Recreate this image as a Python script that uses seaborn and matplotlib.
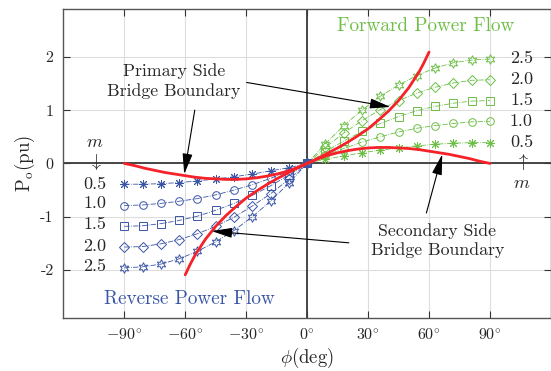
import matplotlib
matplotlib.use("Agg")
import matplotlib.pyplot as plt
import seaborn as sns
import pandas as pd

# ---------------- data ----------------
phi_fwd = [0, 9, 18, 27, 36, 45, 54, 63, 72, 81, 90]
phi_rev = [-90, -81, -72, -63, -54, -45, -36, -27, -18, -9, 0]
m_labels = ["0.5", "1.0", "1.5", "2.0", "2.5"]

P_fwd_05 = [0, 0.08, 0.14, 0.20, 0.25, 0.29, 0.33, 0.36, 0.38, 0.39, 0.39]
P_fwd_10 = [0, 0.15, 0.28, 0.40, 0.50, 0.59, 0.66, 0.71, 0.75, 0.78, 0.79]
P_fwd_15 = [0, 0.22, 0.42, 0.60, 0.75, 0.88, 0.99, 1.07, 1.13, 1.17, 1.18]
P_fwd_20 = [0, 0.30, 0.57, 0.80, 1.01, 1.18, 1.32, 1.43, 1.51, 1.56, 1.57]
P_fwd_25 = [0, 0.37, 0.71, 1.00, 1.26, 1.47, 1.65, 1.79, 1.89, 1.94, 1.96]

P_rev_05 = [-0.39, -0.39, -0.38, -0.36, -0.33, -0.29, -0.25, -0.20, -0.14, -0.08, 0]
P_rev_10 = [-0.79, -0.78, -0.75, -0.71, -0.66, -0.59, -0.50, -0.40, -0.28, -0.15, 0]
P_rev_15 = [-1.18, -1.17, -1.13, -1.07, -0.99, -0.88, -0.75, -0.60, -0.42, -0.22, 0]
P_rev_20 = [-1.57, -1.56, -1.51, -1.43, -1.32, -1.18, -1.01, -0.80, -0.57, -0.30, 0]
P_rev_25 = [-1.96, -1.94, -1.89, -1.79, -1.65, -1.47, -1.26, -1.00, -0.71, -0.37, 0]

# boundaries
phi_sec = [0, 5, 10, 15, 20, 25, 30, 35, 40, 45, 50, 55, 60, 65, 70, 75, 80, 85, 90]
P_sec = [0, 0.08, 0.15, 0.20, 0.24, 0.27, 0.29, 0.30, 0.30, 0.29, 0.28, 0.26,
         0.23, 0.20, 0.17, 0.13, 0.09, 0.04, 0]
phi_pri = [-90, -85, -80, -75, -70, -65, -60, -55, -50, -45, -40, -35, -30,
           -25, -20, -15, -10, -5, 0]
P_pri = [0, -0.04, -0.09, -0.13, -0.17, -0.20, -0.23, -0.26, -0.28, -0.29,
         -0.30, -0.30, -0.29, -0.27, -0.24, -0.20, -0.15, -0.08, 0]
phi_steep = [-60, -57.5, -55, -50, -45, -40, -35, -30, -25, -20, -15, -10, -5, 0,
             5, 10, 15, 20, 25, 30, 35, 40, 45, 50, 55, 57.5, 60]
P_steep = [-2.09, -1.89, -1.71, -1.42, -1.18, -0.98, -0.81, -0.65, -0.52, -0.40,
           -0.29, -0.19, -0.09, 0, 0.09, 0.19, 0.29, 0.40, 0.52, 0.65, 0.81,
           0.98, 1.18, 1.42, 1.71, 1.89, 2.09]

xticks = [-90, -60, -30, 0, 30, 60, 90]
xtick_labels = [r"$-90^{\circ}$", r"$-60^{\circ}$", r"$-30^{\circ}$", r"$0^{\circ}$",
                r"$30^{\circ}$", r"$60^{\circ}$", r"$90^{\circ}$"]
yticks = [-2, -1, 0, 1, 2]
ytick_labels = ["-2", "-1", "0", "1", "2"]

# ---------------- style ----------------
sns.set_style("white")
plt.rcParams["font.family"] = ["cmr10", "DejaVu Serif"]
plt.rcParams["mathtext.fontset"] = "cm"
plt.rcParams["axes.unicode_minus"] = False

GREEN = "#6cbf45"
BLUE = "#3a55a6"
RED = "#f5222a"

fig = plt.figure(figsize=(5.51, 3.71), dpi=100)
ax = fig.add_axes([0.1149, 0.143, 0.885, 0.833])
ax.set_xlim(-120, 120)
ax.set_ylim(-2.9, 2.9)

ax.grid(True, color="#dddddd", lw=0.8)
ax.set_axisbelow(True)
ax.axhline(0, color="#3a3a3a", lw=1.3, zorder=1)
ax.axvline(0, color="#3a3a3a", lw=1.3, zorder=1)

markers = [(8, 2, 0), "o", "s", "D", (6, 1, 0)]
msizes = [6.5, 5.5, 5.5, 5.0, 7]
fwd = [P_fwd_05, P_fwd_10, P_fwd_15, P_fwd_20, P_fwd_25]
rev = [P_rev_05, P_rev_10, P_rev_15, P_rev_20, P_rev_25]

for vals, mk, ms in zip(fwd, markers, msizes):
    df = pd.DataFrame({"phi": phi_fwd, "P": vals})
    sns.lineplot(data=df, x="phi", y="P", ax=ax, color=GREEN, lw=0.6, ls="-.",
                 marker=mk, markersize=ms, markerfacecolor="none",
                 markeredgecolor=GREEN, markeredgewidth=0.7, legend=False,
                 zorder=3)
for vals, mk, ms in zip(rev, markers, msizes):
    df = pd.DataFrame({"phi": phi_rev, "P": vals})
    sns.lineplot(data=df, x="phi", y="P", ax=ax, color=BLUE, lw=0.6, ls="-.",
                 marker=mk, markersize=ms, markerfacecolor="none",
                 markeredgecolor=BLUE, markeredgewidth=0.7, legend=False,
                 zorder=3)

for xs, ys in [(phi_sec, P_sec), (phi_pri, P_pri), (phi_steep, P_steep)]:
    df = pd.DataFrame({"phi": xs, "P": ys})
    sns.lineplot(data=df, x="phi", y="P", ax=ax, color=RED, lw=2.0,
                 legend=False, zorder=4)

ax.set_xticks(xticks)
ax.set_xticklabels(xtick_labels, fontsize=11.5)
ax.set_yticks(yticks)
ax.set_yticklabels(ytick_labels, fontsize=11.5)
ax.tick_params(direction="in", length=5, width=0.8, color="#333333",
               top=True, right=True, bottom=True, left=True, pad=7)
for s in ax.spines.values():
    s.set_color("#555555")
    s.set_linewidth(1.0)

ax.set_xlabel(r"$\phi$(deg)", fontsize=13.5, labelpad=2)
ax.set_ylabel(r"P$_\mathrm{o}$(pu)", fontsize=13.5, labelpad=2)

# m labels
fs = 13
left_y = [-0.39, -0.745, -1.14, -1.55, -1.94]
right_y = [0.40, 0.79, 1.19, 1.58, 1.98]
for lab, yv in zip(m_labels, left_y):
    ax.text(-104.5, yv, lab, ha="center", va="center", fontsize=fs)
for lab, yv in zip(m_labels, right_y):
    ax.text(105.5, yv, lab, ha="center", va="center", fontsize=fs)
ax.text(-104.5, 0.40, r"$m$", ha="center", va="center", fontsize=fs)
ax.text(-104.5, 0.02, r"$\downarrow$", ha="center", va="center", fontsize=fs)
ax.text(105.5, 0.02, r"$\uparrow$", ha="center", va="center", fontsize=fs)
ax.text(105.5, -0.38, r"$m$", ha="center", va="center", fontsize=fs)

ax.text(58.2, 2.57, "Forward Power Flow", color=GREEN, ha="center", va="center",
        fontsize=13.8)
ax.text(-58.2, -2.55, "Reverse Power Flow", color=BLUE, ha="center", va="center",
        fontsize=13.8)

ax.text(-65.6, 1.55, "Primary Side\nBridge Boundary", ha="center", va="center",
        fontsize=12.8, linespacing=1.3)
ax.text(64.1, -1.45, "Secondary Side\nBridge Boundary", ha="center", va="center",
        fontsize=12.8, linespacing=1.3)

aprops = dict(arrowstyle="-|>,head_length=0.9,head_width=0.22", color="black",
              lw=0.8, mutation_scale=14, shrinkA=0, shrinkB=0)
ax.annotate("", xy=(-60.5, -0.20), xytext=(-55.3, 1.0), arrowprops=aprops, zorder=6)
ax.annotate("", xy=(41, 1.06), xytext=(-29.8, 1.52), arrowprops=aprops, zorder=6)
ax.annotate("", xy=(66.5, 0.17), xytext=(58.7, -0.93), arrowprops=aprops, zorder=6)
ax.annotate("", xy=(-47, -1.27), xytext=(20.5, -1.49), arrowprops=aprops, zorder=6)

fig.savefig("out.png", dpi=100)
